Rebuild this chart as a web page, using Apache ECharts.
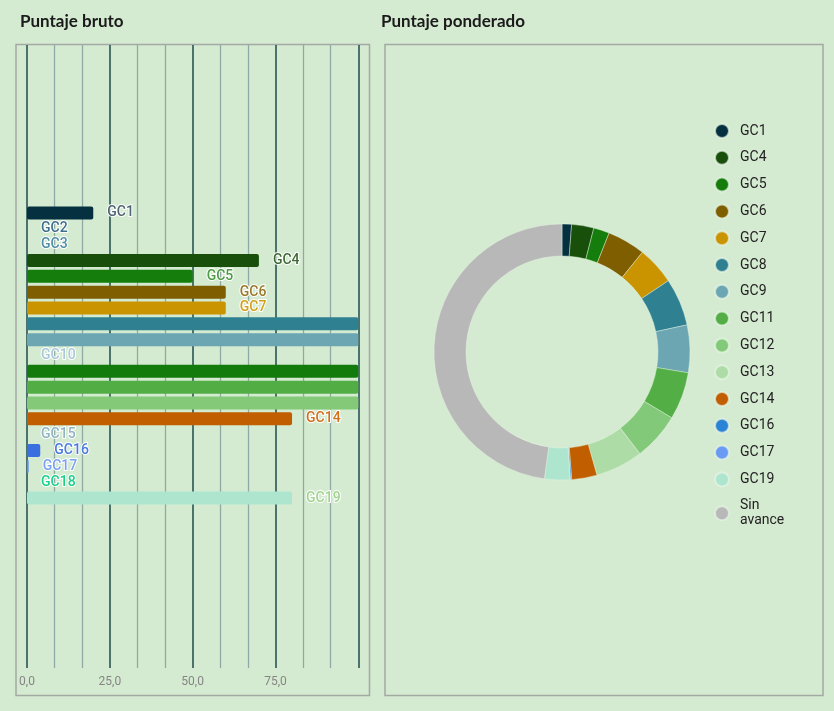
<!DOCTYPE html>
<html><head><meta charset="utf-8">
<script src="https://cdn.jsdelivr.net/npm/echarts@6/dist/echarts.min.js"></script>
<style>html,body{margin:0;padding:0;background:#d5ebd1;} #c{width:834px;height:711px;}</style>
</head><body><div id="c"></div>
<script>
const categories = ['GC1','GC2','GC3','GC4','GC5','GC6','GC7','GC8','GC9','GC10','GC11','GC12','GC13','GC14','GC15','GC16','GC17','GC18','GC19'];
const rawScores = [20,0,0,70,50,60,60,100,100,0,100,100,100,80,0,4,0.5,0,80];
const barColors = ['#05303f','#3e6f8c','#4f8ea6','#174f0b','#157d0b','#7f5e00','#c99400','#2f8191','#6ba6b2','#b2cfdc','#137b0b','#52ae44','#83c977','#c05e00','#8fb4c2','#3a6fe0','#5b8ef0','#1fd18a','#ade5cf'];
const labelColors = ['#4f6573','#3e6f8c','#4f8ea6','#3f6a35','#4d9b45','#9a7a2a','#d4a017','#2f8191','#6ba6b2','#a9c9d8','#137b0b','#52ae44','#83c977','#d0701e','#8fb4c2','#4a7ae0','#7aa0f0','#1bd08a','#9fd48f'];
const pieNames = ['GC1','GC4','GC5','GC6','GC7','GC8','GC9','GC11','GC12','GC13','GC14','GC16','GC17','GC19','Sin avance'];
const pieValues = [1.2,2.8,2.0,4.8,4.8,6.0,6.0,6.0,6.0,6.0,3.2,0.16,0.04,3.2,47.8];
const pieColors = ['#05303f','#174f0b','#157d0b','#7f5e00','#c99400','#2f8191','#6ba6b2','#52ae45','#82c979','#addca6','#c05e00','#2b83d6','#6a9bf4','#ade5cf','#b8b8b8'];
const xTickLabels = {0:'0,0',25:'25,0',50:'50,0',75:'75,0',100:''};

const chart = echarts.init(document.getElementById('c'), null, {renderer:'canvas'});
const barData = rawScores.map((v,i)=>({
  value: v,
  itemStyle: {color: barColors[i]},
  label: {show: v < 100, color: labelColors[i]}
}));
const pieData = pieNames.map((n,i)=>({name:n, value:pieValues[i], itemStyle:{color:pieColors[i]}}));

chart.setOption({
  backgroundColor: '#d5ebd1',
  animation: false,
  title: [
    {text:'Puntaje bruto', left:15, top:8, textStyle:{fontFamily:'Lato', fontWeight:'bold', fontSize:17, color:'#1a1a1a'}},
    {text:'Puntaje ponderado', left:376, top:8, textStyle:{fontFamily:'Lato', fontWeight:'bold', fontSize:17, color:'#1a1a1a'}}
  ],
  graphic: [
    {type:'rect', shape:{x:16, y:44.5, width:353.5, height:651}, style:{fill:'none', stroke:'#a3a9a3', lineWidth:1.5}, z:-1},
    {type:'rect', shape:{x:385, y:44.5, width:438, height:651}, style:{fill:'none', stroke:'#a3a9a3', lineWidth:1.5}, z:-1}
  ],
  grid: [
    {left:27, width:331.3, top:45, bottom:43},
    {left:27, width:331.3, top:205, height:301}
  ],
  xAxis: [
    {gridIndex:0, type:'value', min:0, max:100, interval:25,
     axisLine:{show:false}, axisTick:{show:false},
     axisLabel:{formatter:v=>xTickLabels[v] ?? '', color:'#858585', fontFamily:'Roboto', fontSize:12, margin:8},
     splitLine:{show:true, lineStyle:{color:'#1e4a4b', width:1.5}},
     minorTick:{show:false, splitNumber:3},
     minorSplitLine:{show:true, lineStyle:{color:'#8fa9a4', width:1.3}}},
    {gridIndex:1, type:'value', min:0, max:100, show:false, splitLine:{show:false}}
  ],
  yAxis: [
    {gridIndex:0, type:'value', show:false, splitLine:{show:false}},
    {gridIndex:1, type:'category', data:categories, inverse:true, show:false}
  ],
  legend: {
    orient:'vertical', left:709, top:118, itemWidth:14, itemHeight:14, itemGap:10.8,
    icon:'circle', data:pieNames,
    formatter: n => n === 'Sin avance' ? 'Sin\navance' : n,
    textStyle:{fontFamily:'Roboto', fontSize:14, color:'#222', lineHeight:15, padding:[0,0,0,6]}
  },
  series: [
    {type:'bar', xAxisIndex:1, yAxisIndex:1, data:barData, barWidth:13,
     itemStyle:{borderRadius:2},
     label:{show:true, position:'right', distance:14, formatter:p=>categories[p.dataIndex],
            fontFamily:'Roboto', fontWeight:500, fontSize:14, textBorderColor:'#ffffff', textBorderWidth:2}},
    {type:'pie', center:[562,352], radius:[96,128], startAngle:90, clockwise:true,
     label:{show:false}, labelLine:{show:false}, avoidLabelOverlap:false,
     itemStyle:{borderColor:'rgba(230,245,228,0.7)', borderWidth:0.6},
     data:pieData}
  ]
});
</script></body></html>
